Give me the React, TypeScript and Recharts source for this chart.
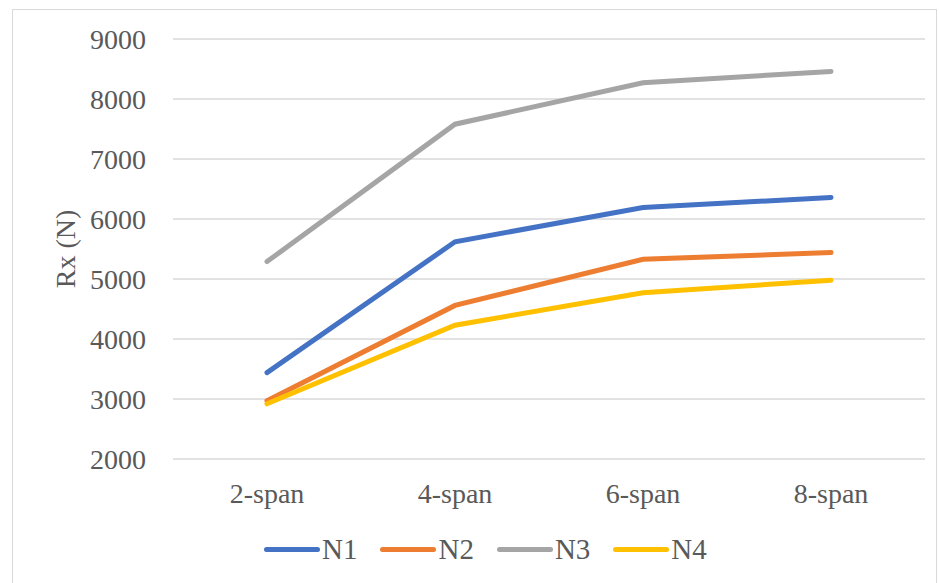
import { LineChart, Line, XAxis, YAxis, CartesianGrid, Legend } from 'recharts';

const categories = ['2-span', '4-span', '6-span', '8-span'];
const n1 = [3440, 5620, 6190, 6360];
const n2 = [2970, 4560, 5330, 5440];
const n3 = [5290, 7580, 8270, 8460];
const n4 = [2920, 4230, 4770, 4980];
const yTicks = [2000, 3000, 4000, 5000, 6000, 7000, 8000, 9000];

const series = [
  { key: 'N1', values: n1, color: '#4472C4' },
  { key: 'N2', values: n2, color: '#ED7D31' },
  { key: 'N3', values: n3, color: '#A5A5A5' },
  { key: 'N4', values: n4, color: '#FFC000' },
];

const data = categories.map((c, i) => {
  const row: any = { name: c };
  series.forEach(s => { row[s.key] = s.values[i]; });
  return row;
});

const font = '"Liberation Serif", "Times New Roman", serif';

const LegendContent = () => (
  <div style={{ display: 'flex', justifyContent: 'flex-start', fontFamily: font, fontSize: 29, color: '#595959' }}>
    {series.map(s => (
      <div key={s.key} style={{ display: 'flex', alignItems: 'center', marginRight: 23 }}>
        <div style={{ width: 56, height: 5, background: s.color, borderRadius: 2.5, marginRight: 2 }} />
        <span>{s.key}</span>
      </div>
    ))}
  </div>
);

const YLabel = (props: any) => {
  const vb = props.viewBox || {};
  const cx = vb.x + 65;
  const cy = vb.y + vb.height / 2;
  return (
    <text x={cx} y={cy} transform={`rotate(-90, ${cx}, ${cy})`} textAnchor="middle" dominantBaseline="central"
      fill="#595959" fontSize={28} fontFamily={font}>
      Rx (N)
    </text>
  );
};

export default function App() {
  return (
    <div style={{ position: 'absolute', left: 0, top: 0, width: 940, height: 583, background: '#fff' }}>
      <div style={{ position: 'absolute', left: 12, top: 9, width: 925, height: 600, border: '1.5px solid #d9d9d9', boxSizing: 'border-box' }} />
      <LineChart width={940} height={583} data={data} margin={{ top: 39, right: 15, left: 0, bottom: 31 }}>
        <CartesianGrid vertical={false} stroke="#d9d9d9" strokeWidth={1.5} />
        <XAxis dataKey="name" axisLine={false} tickLine={false} tickSize={0} tickMargin={24} height={60}
          padding={{ left: 94, right: 94 }}
          tick={{ fill: '#595959', fontSize: 28, fontFamily: font }} interval={0} />
        <YAxis domain={[2000, 9000]} ticks={yTicks} axisLine={false} tickLine={false} tickSize={0} tickMargin={27} width={173}
          tick={{ fill: '#595959', fontSize: 28, fontFamily: font }} label={<YLabel />} />
        <Legend verticalAlign="bottom" content={<LegendContent />}
          wrapperStyle={{ position: 'absolute', left: 264, top: 533, width: 480 }} />
        {series.map(s => (
          <Line key={s.key} type="linear" dataKey={s.key} stroke={s.color} strokeWidth={5} strokeLinecap="round"
            dot={false} isAnimationActive={false} />
        ))}
      </LineChart>
    </div>
  );
}
